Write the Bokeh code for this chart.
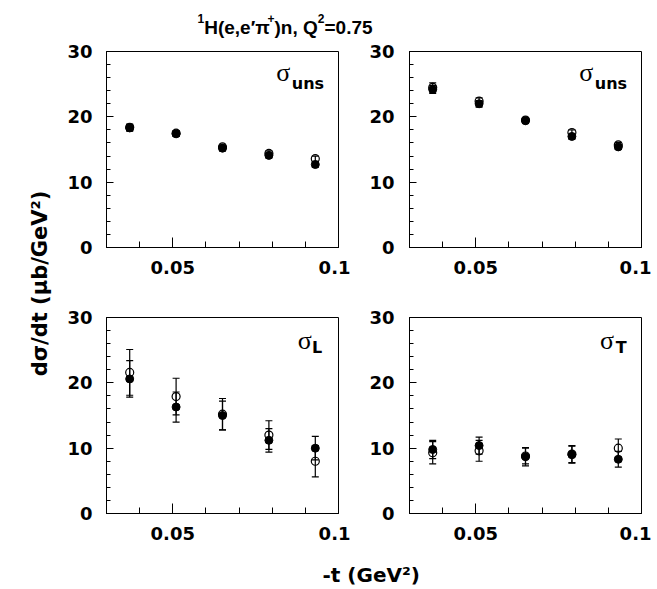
import math
from bokeh.plotting import figure
from bokeh.layouts import column, row
from bokeh.models import (FixedTicker, Whisker, ColumnDataSource, Label,
                          TeeHead, Range1d)
from bokeh.embed import file_html
from bokeh.resources import INLINE

# ---------------- data ----------------
t = [0.037, 0.051, 0.065, 0.079, 0.093]

uns1_filled = [18.3, 17.4, 15.2, 14.1, 12.7]
uns1_filled_err = [0.5, 0.4, 0.4, 0.4, 0.4]
uns1_open = [18.4, 17.5, 15.4, 14.4, 13.6]
uns1_open_err = [0.5, 0.4, 0.4, 0.4, 0.4]

uns2_filled = [24.2, 22.0, 19.4, 17.0, 15.4]
uns2_filled_err = [0.6, 0.5, 0.4, 0.4, 0.4]
uns2_open = [24.5, 22.4, 19.5, 17.6, 15.7]
uns2_open_err = [0.7, 0.5, 0.4, 0.4, 0.4]

L_filled = [20.6, 16.3, 15.0, 11.2, 10.0]
L_filled_err = [2.8, 2.3, 2.2, 1.8, 1.8]
L_open = [21.6, 17.9, 15.2, 12.0, 8.0]
L_open_err = [3.5, 2.8, 2.4, 2.2, 2.4]

T_filled = [9.8, 10.4, 8.7, 9.0, 8.3]
T_filled_err = [1.4, 1.3, 1.4, 1.3, 1.2]
T_open = [9.3, 9.6, 8.8, 9.1, 10.0]
T_open_err = [1.7, 1.6, 1.2, 1.3, 1.4]

x_major = [0.05, 0.1]
x_minor = [0.03, 0.04, 0.05, 0.06, 0.07, 0.08, 0.09, 0.1]
x_tick_labels = ["0.05", "0.1"]
y_major = [0, 10, 20, 30]
y_minor = list(range(0, 31, 2))

# title pieces: (text, is_superscript)
title_parts = [("1", True), ("H(e,e\u2032\u03c0", False), ("+", True),
               (")n, Q", False), ("2", True), ("=0.75", False)]
ylabel_text = "d\u03c3/dt (\u03bcb/GeV\u00b2)"
xlabel_text = "-t (GeV\u00b2)"

FONT = "DejaVu Sans"
TFONT = "Liberation Sans"

# approximate Arial-Bold advance widths (em) for laying out the title pieces
ADV = {"H": .722, "(": .333, ")": .333, "e": .556, ",": .278, "\u2032": .25,
       "\u03c0": .64, "n": .611, " ": .278, "Q": .778, "=": .584,
       "0": .556, ".": .278, "7": .556, "5": .556, "1": .556, "2": .556,
       "+": .584}

# the svg text of labels sits ~0.3 em below the requested alphabetic baseline
BASE_FIX = 0.3
PX_PER_UNIT = 196 / 30.0


def blank(width, height):
    f = figure(width=width, height=height, output_backend="svg",
               toolbar_location=None, x_range=Range1d(0, width),
               y_range=Range1d(0, height), x_axis_type=None, y_axis_type=None,
               min_border=0, title_location=None)
    f.xgrid.visible = False
    f.ygrid.visible = False
    f.outline_line_color = None
    f.background_fill_color = "white"
    f.border_fill_color = "white"
    return f


def whisker(p, y, err):
    src = ColumnDataSource(dict(x=t, lo=[a - e for a, e in zip(y, err)],
                                hi=[a + e for a, e in zip(y, err)]))
    w = Whisker(base="x", upper="hi", lower="lo", source=src,
                dimension="height", line_color="black", line_width=1.2,
                upper_head=TeeHead(size=7, line_color="black", line_width=1.2),
                lower_head=TeeHead(size=7, line_color="black", line_width=1.2))
    p.add_layout(w)


def panel(width, height, left, right, top, bottom, filled, ferr, opn, oerr,
          sub, lx, ly, sub_dx, sub_dy, standoff_y):
    p = figure(width=width, height=height, x_range=Range1d(0.03, 0.1),
               y_range=Range1d(0, 30), output_backend="svg",
               toolbar_location=None, min_border_left=left,
               min_border_right=right, min_border_top=top,
               min_border_bottom=bottom)
    p.xgrid.visible = False
    p.ygrid.visible = False
    p.outline_line_color = "black"
    p.outline_line_width = 1
    p.background_fill_color = "white"
    p.border_fill_color = "white"

    xa = p.xaxis[0]
    xa.ticker = FixedTicker(ticks=x_major, minor_ticks=x_minor)
    xa.major_label_overrides = {k: v for k, v in zip(x_major, x_tick_labels)}
    xa.major_tick_in = 10
    xa.major_tick_out = 0
    xa.minor_tick_in = 6
    xa.minor_tick_out = 0
    xa.major_label_standoff = 13

    ya = p.yaxis[0]
    ya.ticker = FixedTicker(ticks=y_major, minor_ticks=y_minor)
    ya.major_tick_in = 7
    ya.major_tick_out = 0
    ya.minor_tick_in = 4
    ya.minor_tick_out = 0
    ya.major_label_standoff = standoff_y

    for a in (xa, ya):
        a.axis_line_color = "black"
        a.major_tick_line_color = "black"
        a.minor_tick_line_color = "black"
        a.major_label_text_font = FONT
        a.major_label_text_font_style = "bold"
        a.major_label_text_font_size = "18px"
        a.major_label_text_color = "black"

    whisker(p, opn, oerr)
    whisker(p, filled, ferr)
    p.scatter(t, opn, size=8, marker="circle", fill_color=None,
              line_color="black", line_width=1.2)
    p.scatter(t, filled, size=8, marker="circle", fill_color="black",
              line_color="black")

    p.add_layout(Label(x=lx, y=ly + BASE_FIX * 26 / PX_PER_UNIT, text="\u03c3",
                       text_font="Liberation Serif",
                       text_font_size="26px", text_color="black",
                       text_baseline="alphabetic"))
    p.add_layout(Label(x=lx + sub_dx, y=ly - sub_dy + BASE_FIX * 16 / PX_PER_UNIT,
                       text=sub, text_font=FONT,
                       text_font_style="bold", text_font_size="16px",
                       text_color="black", text_baseline="alphabetic"))
    return p


TOP_H = 259
BOT_H = 254
YLAB_W = 58

tl = panel(292, TOP_H, 48, 12, 13, 50, uns1_filled, uns1_filled_err,
           uns1_open, uns1_open_err, "uns", 0.0812, 25.6, 0.0047, 1.2, 14)
tr = panel(301, TOP_H, 59, 10, 13, 50, uns2_filled, uns2_filled_err,
           uns2_open, uns2_open_err, "uns", 0.0812, 25.6, 0.0047, 1.2, 15)
bl = panel(292, BOT_H, 48, 12, 20, 38, L_filled, L_filled_err,
           L_open, L_open_err, "L", 0.0877, 25.3, 0.0043, 0.6, 14)
br = panel(301, BOT_H, 59, 10, 20, 38, T_filled, T_filled_err,
           T_open, T_open_err, "T", 0.0875, 25.3, 0.0047, 0.7, 15)

# ---- title (composed so that superscripts are raised and smaller) ----
title_fig = blank(651, 38)
MAIN_PX, SUP_PX = 19, 12
xpos = 197.0
for txt, sup in title_parts:
    size = SUP_PX if sup else MAIN_PX
    base = 16 if sup else 5.7
    title_fig.add_layout(Label(x=xpos, y=base + BASE_FIX * size, text=txt,
                               text_font=TFONT, text_font_style="bold",
                               text_font_size=f"{size}px", text_color="black",
                               text_align="left", text_baseline="alphabetic"))
    xpos += sum(ADV.get(c, .556) for c in txt) * size

ylab_fig = blank(YLAB_W, TOP_H + BOT_H)
ylab_fig.add_layout(Label(x=39, y=TOP_H + BOT_H - (283 - 38), text=ylabel_text,
                          text_font=FONT, text_font_style="bold",
                          text_font_size="21px", text_color="black",
                          text_align="center", text_baseline="middle",
                          angle=math.pi / 2))

xlab_fig = blank(651, 37)
xlab_fig.add_layout(Label(x=322, y=8 + BASE_FIX * 20, text=xlabel_text,
                          text_font=FONT, text_font_style="bold",
                          text_font_size="20px", text_color="black",
                          text_align="left", text_baseline="alphabetic"))

grid = column(row(tl, tr), row(bl, br))
layout = column(title_fig, row(ylab_fig, grid), xlab_fig)

open("out.html", "w").write(file_html(layout, INLINE))
